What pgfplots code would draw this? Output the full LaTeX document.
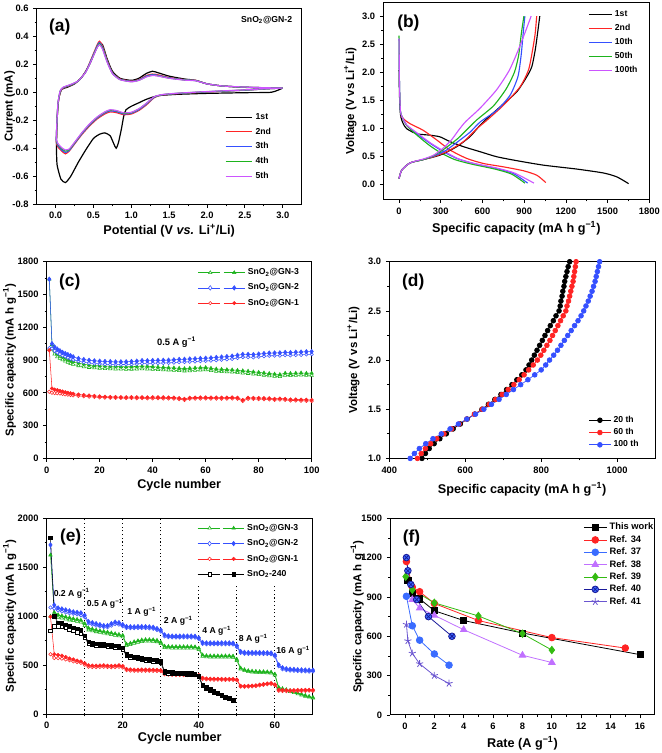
\documentclass[border=0pt]{standalone}
\usepackage{fontspec}
\setmainfont{Liberation Sans}
\usepackage{pgfplots}
\pgfplotsset{compat=1.18}
\usepackage{pgfplotstable}

\definecolor{cgreen}{HTML}{1DB31D}
\definecolor{cblue}{HTML}{3550FF}
\definecolor{cred}{HTML}{FF2424}
\definecolor{cpurp}{HTML}{CC55FF}
\definecolor{r37}{HTML}{3A6CFF}
\definecolor{r38}{HTML}{C070FF}
\definecolor{r39}{HTML}{33BB11}
\definecolor{r40}{HTML}{1A1A9A}
\definecolor{r41}{HTML}{6A55D0}

\tikzset{letter/.style={font=\fontsize{13}{15}\selectfont\bfseries}}
\pgfplotsset{
  myax/.style={
    scale only axis, anchor=north west,
    axis line style={line width=0.8pt},
    every tick/.style={line width=0.6pt, black},
    tick align=outside, tick pos=left,
    major tick length=2.6pt, minor tick length=1.5pt,
    minor tick num=1,
    tick label style={font=\fontsize{7}{8}\selectfont\bfseries},
    /pgf/number format/assume math mode=true,
    /pgf/number format/1000 sep={},
    legend style={draw=none, fill=none, font=\fontsize{6.5}{7.5}\selectfont\bfseries, inner sep=0pt, row sep=1.5pt},
    legend cell align=left,
  },
  ylpos/.style={every axis y label/.style={at={(axis description cs:#1,0.5)}, rotate=90, anchor=center, font=\fontsize{8.6}{10}\selectfont\bfseries}},
  xlpos/.style={every axis x label/.style={at={(axis description cs:0.5,#1)}, anchor=center, font=\fontsize{9.5}{11}\selectfont\bfseries}},
  lineleg/.style={legend image code/.code={\draw[##1,mark=none] (0pt,0pt)--(#1,0pt);}},
  markleg/.style={legend image code/.code={\draw[##1,mark=none] (0pt,0pt)--(#1,0pt);
      \draw[##1,only marks] plot coordinates {(#1/2,0pt)};}},
  dualleg/.style={legend image code/.code={
      \draw[##1,mark=none] (0pt,0pt) -- (16.5pt,0pt);
      \draw[##1,mark=none] (19pt,0pt) -- (35pt,0pt);
      \draw[##1,only marks,mark options={fill=white}] plot coordinates {(9pt,0pt)};
      \draw[##1,only marks] plot coordinates {(27pt,0pt)};}},
}

\pgfplotstableread{
x r b g m
3.0 0.030 0.030 0.030 0.030
2.8 0.025 0.025 0.025 0.026
2.5 0.015 0.015 0.016 0.017
2.0 0.002 0.003 0.004 0.005
1.6 -0.010 -0.009 -0.008 -0.007
1.4 -0.020 -0.019 -0.018 -0.017
1.3 -0.040 -0.037 -0.035 -0.033
1.2 -0.090 -0.085 -0.080 -0.078
1.1 -0.130 -0.125 -0.120 -0.118
1.0 -0.155 -0.150 -0.146 -0.143
0.9 -0.160 -0.155 -0.150 -0.147
0.8 -0.145 -0.138 -0.133 -0.130
0.72 -0.140 -0.133 -0.128 -0.125
0.65 -0.155 -0.148 -0.143 -0.140
0.55 -0.190 -0.184 -0.179 -0.176
0.45 -0.240 -0.234 -0.229 -0.225
0.35 -0.300 -0.295 -0.290 -0.287
0.25 -0.370 -0.366 -0.362 -0.358
0.18 -0.420 -0.416 -0.410 -0.405
0.13 -0.440 -0.430 -0.420 -0.412
0.08 -0.420 -0.412 -0.403 -0.396
0.03 -0.390 -0.380 -0.372 -0.366
0.01 -0.360 -0.350 -0.342 -0.336
0.012 -0.300 -0.290 -0.285 -0.280
0.03 -0.100 -0.095 -0.090 -0.085
0.06 0.000 0.005 0.008 0.010
0.10 0.030 0.032 0.034 0.036
0.20 0.050 0.052 0.054 0.056
0.30 0.080 0.080 0.081 0.082
0.40 0.150 0.148 0.146 0.145
0.48 0.250 0.245 0.240 0.236
0.55 0.340 0.333 0.326 0.320
0.58 0.365 0.355 0.347 0.340
0.62 0.330 0.322 0.315 0.308
0.68 0.230 0.225 0.220 0.216
0.75 0.140 0.138 0.136 0.134
0.85 0.095 0.093 0.091 0.090
1.00 0.080 0.078 0.076 0.075
1.10 0.090 0.088 0.086 0.085
1.20 0.120 0.116 0.112 0.110
1.28 0.130 0.126 0.122 0.120
1.35 0.125 0.121 0.118 0.116
1.50 0.105 0.103 0.101 0.100
1.70 0.090 0.089 0.088 0.087
1.85 0.085 0.084 0.083 0.082
2.00 0.060 0.060 0.060 0.060
2.20 0.045 0.045 0.045 0.045
2.50 0.036 0.036 0.036 0.037
2.80 0.032 0.032 0.032 0.032
3.00 0.030 0.030 0.030 0.030
}\cvtab

\pgfplotstableread{
cyc d3 c3 d2 c2 d1 c1
1 1640 1000 1640 1010 990 610
2 1040 1000 1050 1005 640 600
3 985 955 1020 985 630 598
4 960 930 1000 968 625 596
5 945 915 985 955 618 594
6 930 902 970 942 612 590
7 918 890 960 932 606 586
8 905 878 950 922 600 583
9 895 868 940 912 596 580
10 885 860 930 903 592 577
12 872 848 915 890 585 572
14 862 838 905 880 580 568
16 855 832 898 873 576 565
18 850 828 893 868 572 562
20 848 825 890 865 568 558
22 845 822 887 862 565 556
24 843 820 886 860 563 555
26 842 818 883 858 562 554
28 840 817 884 859 560 553
30 838 815 884 860 560 552
32 840 816 887 862 561 552
34 842 818 890 865 560 551
36 845 820 895 870 560 551
38 843 818 894 869 559 550
40 840 815 896 871 560 550
42 835 812 897 872 560 550
44 833 810 898 873 559 549
46 830 808 899 874 558 548
48 828 806 902 877 557 547
50 825 803 906 881 552 542
52 822 800 907 882 545 535
54 825 802 910 885 555 545
56 828 805 912 887 557 547
58 830 808 915 890 558 548
60 832 810 917 892 558 548
62 825 803 920 895 557 547
64 818 797 924 899 557 547
66 815 794 928 903 556 546
68 812 791 932 907 557 547
70 810 789 936 911 558 548
72 806 785 944 919 556 546
74 802 781 952 927 535 525
76 798 777 952 927 555 545
78 792 771 950 925 554 544
80 788 767 955 930 553 543
82 782 761 960 935 552 542
84 777 756 964 939 550 540
86 772 751 965 940 545 535
88 768 748 966 941 548 538
90 780 760 970 945 545 535
92 778 758 968 943 540 530
94 780 760 972 947 540 530
96 782 762 973 948 538 528
98 779 759 976 951 537 527
100 780 760 978 953 535 525
}\ctab

\pgfplotstableread{
V a b c
1.00 486 474 455
1.05 495 484 466
1.10 505 495 479
1.15 518 509 496
1.20 533 525 515
1.25 550 544 537
1.30 568 564 560
1.35 587 584 582
1.40 605 604 604
1.45 625 624 627
1.50 644 645 649
1.55 661 663 669
1.60 678 680 689
1.65 694 697 708
1.70 709 713 727
1.75 723 728 746
1.80 736 742 765
1.85 749 755 783
1.90 760 767 800
1.95 768 779 812
2.00 775 790 822
2.05 782 799 833
2.10 789 807 843
2.15 796 815 852
2.20 803 823 861
2.25 810 830 870
2.30 817 837 879
2.35 824 844 888
2.40 832 851 897
2.45 839 858 905
2.50 847 865 912
2.55 850 868 918
2.60 852 872 924
2.65 855 875 929
2.70 857 878 934
2.75 860 881 938
2.80 862 884 942
2.85 865 886 945
2.90 868 888 948
2.95 871 890 951
3.00 875 892 954
}\dtab

\pgfplotstableread{
cyc d3 c3 d2 c2 d1 c1 d0 c0
1 1625 1000 1728 1090 996 612 1803 850
2 1040 1000 1115 1080 612 575 1000 900
3 1015 990 1085 1060 605 572 935 900
4 1005 980 1075 1050 598 568 930 895
5 995 972 1065 1040 585 560 915 880
6 985 962 1055 1030 570 550 900 865
7 975 955 1045 1025 560 540 885 850
8 968 948 1040 1020 548 532 870 835
9 960 940 1035 1010 540 525 855 820
10 925 905 1010 990 520 505 800 780
11 880 860 945 925 500 485 740 720
12 870 850 935 915 497 482 725 710
13 860 842 925 905 496 482 720 705
14 852 835 915 897 498 483 715 700
15 845 828 905 890 500 485 712 697
16 838 820 905 887 496 482 708 695
17 830 813 925 905 494 480 703 690
18 822 806 940 920 496 482 698 685
19 815 800 935 915 500 485 693 680
20 805 790 915 897 492 478 680 665
21 715 700 895 880 462 450 610 595
22 725 710 893 878 458 446 595 580
23 740 724 893 878 455 444 588 575
24 750 734 895 880 455 444 580 566
25 758 742 895 880 456 445 572 558
26 762 746 894 879 456 444 566 552
27 762 746 892 877 455 444 560 546
28 760 744 888 873 454 443 556 542
29 755 740 875 860 453 442 552 538
30 735 720 860 845 450 440 540 525
31 695 680 810 795 420 408 440 428
32 692 678 800 786 415 404 432 420
33 690 676 798 784 413 402 428 416
34 690 676 798 784 412 401 425 414
35 690 676 798 784 412 401 423 412
36 690 676 798 784 411 400 422 411
37 690 676 798 784 410 400 420 410
38 690 676 798 784 410 400 418 408
39 688 674 796 782 408 398 412 402
40 675 660 780 766 400 390 390 380
41 605 592 732 718 372 362 300 290
42 598 585 728 714 365 356 275 266
43 596 583 728 714 363 354 255 246
44 596 583 728 714 362 353 235 226
45 596 583 728 714 362 353 215 208
46 596 583 728 714 361 352 195 188
47 596 583 728 714 360 351 178 172
48 596 583 728 714 360 351 162 156
49 594 581 726 712 360 351 148 142
50 560 548 700 686 355 346 nan nan
51 472 460 640 626 290 282 nan nan
52 455 445 632 618 288 280 nan nan
53 445 435 630 616 290 282 nan nan
54 440 430 630 616 292 284 nan nan
55 438 428 630 616 296 288 nan nan
56 436 426 630 616 302 294 nan nan
57 435 425 628 614 308 300 nan nan
58 433 423 628 614 314 306 nan nan
59 430 420 626 612 318 310 nan nan
60 410 400 605 590 305 298 nan nan
61 275 262 505 490 250 240 nan nan
62 262 250 475 460 248 238 nan nan
63 252 242 465 450 246 236 nan nan
64 242 232 460 446 245 235 nan nan
65 230 220 458 444 246 236 nan nan
66 218 208 455 441 247 237 nan nan
67 205 196 453 439 248 238 nan nan
68 193 184 452 438 249 239 nan nan
69 182 174 450 436 250 240 nan nan
70 172 165 450 436 248 238 nan nan
}\etab

\begin{document}
\begin{tikzpicture}
\useasboundingbox (0,0) rectangle (495.75pt,-564.75pt);

% ---------------- (a)
\begin{axis}[myax, at={(27.5pt,-6.2pt)}, width=198.75pt, height=147pt,
  ylpos=-0.102, xlpos=-0.133,
  xmin=-0.25, xmax=3.25, ymin=-0.8, ymax=0.6,
  xtick={0,0.5,...,3}, ytick={-0.8,-0.6,...,0.6},
  xticklabel style={/pgf/number format/.cd, fixed, fixed zerofill, precision=1},
  yticklabel style={/pgf/number format/.cd, fixed, fixed zerofill, precision=1},
  xlabel={Potential (V \textit{vs.} Li\textsuperscript{+}/Li)},
  ylabel={Current (mA)},
  lineleg=20pt,
  legend style={at={(0.71,0.48)}, anchor=north west, row sep=1.0pt},
  ]
\addplot[black, line width=0.9pt, smooth, tension=0.35] coordinates {
(3.0,0.03) (2.85,0.0) (2.5,-0.003) (2.0,-0.008) (1.6,-0.015) (1.35,-0.025) (1.2,-0.05) (1.1,-0.075) (1.0,-0.1) (0.93,-0.125) (0.9,-0.17) (0.87,-0.26) (0.83,-0.36) (0.8,-0.4) (0.77,-0.37) (0.72,-0.31) (0.65,-0.29) (0.58,-0.3) (0.5,-0.33) (0.4,-0.41) (0.3,-0.5) (0.2,-0.6) (0.13,-0.645) (0.07,-0.62) (0.02,-0.52) (0.012,-0.4) (0.02,-0.2) (0.04,-0.05) (0.08,0.02) (0.15,0.035) (0.25,0.06) (0.35,0.11) (0.45,0.2) (0.52,0.29) (0.58,0.35) (0.62,0.34) (0.68,0.24) (0.75,0.15) (0.85,0.1) (1.0,0.085) (1.1,0.1) (1.2,0.135) (1.28,0.15) (1.35,0.14) (1.5,0.115) (1.7,0.095) (1.85,0.085) (2.0,0.06) (2.2,0.045) (2.5,0.035) (2.8,0.03) (3.0,0.03)};
\addlegendentry{1st}
\addplot[cred, line width=0.9pt, smooth, tension=0.35] table[x=x,y=r]{\cvtab};
\addlegendentry{2nd}
\addplot[cblue, line width=0.9pt, smooth, tension=0.35] table[x=x,y=b]{\cvtab};
\addlegendentry{3th}
\addplot[cgreen, line width=0.9pt, smooth, tension=0.35] table[x=x,y=g]{\cvtab};
\addlegendentry{4th}
\addplot[cpurp, line width=0.9pt, smooth, tension=0.35] table[x=x,y=m]{\cvtab};
\addlegendentry{5th}
\node[letter] at (rel axis cs:0.087,0.903) {(a)};
\node[font=\fontsize{6.5}{7.5}\selectfont\bfseries] at (rel axis cs:0.868,0.94) {SnO\textsubscript{2}@GN-2};
\end{axis}

% ---------------- (b)
\begin{axis}[myax, at={(287.5pt,-2pt)}, width=199.5pt, height=147.5pt,
  ylpos=-0.124, xlpos=-0.148,
  xmin=-113, xmax=1800, ymin=-0.27, ymax=3.24,
  xtick={0,300,...,1800}, ytick={0,0.5,...,3},
  yticklabel style={/pgf/number format/.cd, fixed, fixed zerofill, precision=1},
  xlabel={Specific capacity (mA h g\textsuperscript{−1})},
  ylabel={Voltage (V vs Li\textsuperscript{+}/Li)},
  lineleg=17pt,
  legend style={at={(0.77,0.975)}, anchor=north west, row sep=0.3pt},
  ]
\addplot[black, line width=0.85pt, smooth, tension=0.4] coordinates {(0,2.04) (3,1.6) (8,1.3) (15,1.18) (30,1.08) (55,0.99) (127,0.9) (223,0.875) (295,0.845) (367,0.76) (463,0.67) (583,0.58) (703,0.49) (847,0.42) (1039,0.34) (1279,0.27) (1471,0.2) (1567,0.13) (1651,0.01)};
\addlegendentry{1st}
\addplot[cred, line width=0.85pt, smooth, tension=0.4] coordinates {(12,1.22) (40,1.15) (79,1.08) (175,0.96) (271,0.79) (367,0.61) (487,0.46) (607,0.37) (751,0.31) (895,0.24) (991,0.16) (1055,0.03)};
\addlegendentry{2nd}
\addplot[cblue, line width=0.85pt, smooth, tension=0.4] coordinates {(0,2.6) (3,1.8) (8,1.4) (14,1.25) (55,1.05) (127,0.9) (223,0.73) (319,0.58) (415,0.46) (535,0.37) (703,0.28) (823,0.19) (925,0.02)};
\addlegendentry{10th}
\addplot[cgreen, line width=0.85pt, smooth, tension=0.4] coordinates {(0,2.65) (3,1.8) (8,1.4) (14,1.25) (55,1.05) (127,0.88) (215,0.7) (300,0.56) (400,0.44) (520,0.36) (690,0.27) (810,0.18) (905,0.02)};
\addlegendentry{50th}
\addplot[cpurp, line width=0.85pt, smooth, tension=0.4] coordinates {(0,2.6) (3,1.8) (8,1.4) (14,1.25) (55,1.06) (127,0.92) (230,0.73) (330,0.58) (430,0.45) (540,0.37) (700,0.29) (830,0.2) (970,0.02)};
\addlegendentry{100th}
\addplot[black, line width=0.85pt, smooth, tension=0.4, forget plot] coordinates {(0,0.1) (19,0.25) (79,0.38) (175,0.44) (295,0.52) (415,0.67) (511,0.85) (571,1.02) (631,1.17) (727,1.38) (847,1.65) (919,1.92) (955,2.1) (979,2.39) (996,2.69) (1012,3.0)};
\addplot[cred, line width=0.85pt, smooth, tension=0.4, forget plot] coordinates {(0,0.1) (19,0.25) (79,0.38) (175,0.44) (247,0.49) (343,0.58) (463,0.76) (559,0.99) (631,1.14) (751,1.41) (871,1.74) (931,2.04) (960,2.39) (979,2.69) (990,3.0)};
\addplot[cblue, line width=0.85pt, smooth, tension=0.4, forget plot] coordinates {(0,0.1) (19,0.25) (79,0.38) (175,0.44) (247,0.5) (335,0.6) (439,0.79) (511,0.93) (583,1.11) (703,1.32) (799,1.59) (855,1.92) (878,2.3) (893,2.7) (905,3.0)};
\addplot[cgreen, line width=0.85pt, smooth, tension=0.4, forget plot] coordinates {(0,0.1) (19,0.25) (79,0.38) (175,0.44) (247,0.51) (320,0.62) (420,0.81) (490,0.98) (560,1.15) (680,1.4) (770,1.7) (830,2.0) (860,2.3) (880,2.7) (898,3.0)};
\addplot[cpurp, line width=0.85pt, smooth, tension=0.4, forget plot] coordinates {(0,0.1) (19,0.25) (79,0.38) (175,0.45) (250,0.52) (320,0.65) (380,0.8) (430,0.97) (480,1.12) (580,1.35) (700,1.68) (790,2.02) (850,2.35) (905,2.7) (950,3.0)};
\node[letter] at (rel axis cs:0.094,0.898) {(b)};
\end{axis}

% ---------------- (c)
\begin{axis}[myax, at={(35pt,-196.3pt)}, width=198.75pt, height=147.5pt,
  ylpos=-0.14, xlpos=-0.138,
  xmin=0, xmax=100, ymin=0, ymax=1800,
  xtick={0,20,...,100}, ytick={0,300,...,1800},
  xlabel={Cycle number},
  ylabel={Specific capacity (mA h g\textsuperscript{−1})},
  dualleg,
  legend style={at={(0.57,0.98)}, anchor=north west, row sep=1.3pt},
  ]
\addplot[cgreen, line width=0.4pt, mark=triangle*, mark size=1.5pt, mark options={fill=white}, forget plot] table[x=cyc,y=c3]{\ctab};
\addplot[cgreen, line width=0.4pt, mark=triangle*, mark size=1.5pt] table[x=cyc,y=d3]{\ctab};
\addlegendentry{SnO\textsubscript{2}@GN-3}
\addplot[cblue, line width=0.4pt, mark=*, mark size=1.3pt, mark options={fill=white}, forget plot] table[x=cyc,y=c2]{\ctab};
\addplot[cblue, line width=0.4pt, mark=diamond*, mark size=1.7pt] table[x=cyc,y=d2]{\ctab};
\addlegendentry{SnO\textsubscript{2}@GN-2}
\addplot[cred, line width=0.4pt, mark=*, mark size=1.3pt, mark options={fill=white}, forget plot] table[x=cyc,y=c1]{\ctab};
\addplot[cred, line width=0.4pt, mark=*, mark size=1.3pt] table[x=cyc,y=d1]{\ctab};
\addlegendentry{SnO\textsubscript{2}@GN-1}
\node[letter] at (rel axis cs:0.087,0.895) {(c)};
\node[font=\fontsize{7}{8}\selectfont\bfseries] at (rel axis cs:0.49,0.59) {0.5 A g\textsuperscript{−1}};
\end{axis}

% ---------------- (d)
\begin{axis}[myax, at={(292pt,-196.3pt)}, width=199.3pt, height=147.5pt,
  ylpos=-0.135, xlpos=-0.158,
  xmin=400, xmax=1100, ymin=1, ymax=3,
  xtick={400,600,...,1000}, ytick={1,1.5,...,3},
  yticklabel style={/pgf/number format/.cd, fixed, fixed zerofill, precision=1},
  xlabel={Specific capacity (mA h g\textsuperscript{−1})},
  ylabel={Voltage (V vs Li\textsuperscript{+}/Li)},
  markleg=16pt,
  legend style={at={(0.75,0.23)}, anchor=north west, row sep=-1.0pt},
  ]
\addplot[black, line width=0.5pt, mark=*, mark size=1.8pt] table[x=a,y=V]{\dtab};
\addlegendentry{20 th}
\addplot[cred, line width=0.5pt, mark=*, mark size=1.8pt] table[x=b,y=V]{\dtab};
\addlegendentry{60 th}
\addplot[cblue, line width=0.5pt, mark=*, mark size=1.8pt] table[x=c,y=V]{\dtab};
\addlegendentry{100 th}
\node[letter] at (rel axis cs:0.09,0.895) {(d)};
\end{axis}

% ---------------- (e)
\begin{axis}[myax, at={(35pt,-388.7pt)}, width=199.7pt, height=147pt,
  ylpos=-0.139, xlpos=-0.122,
  xmin=0, xmax=70, ymin=0, ymax=2000,
  xtick={0,20,...,60}, ytick={0,500,...,2000},
  xlabel={Cycle number},
  ylabel={Specific capacity (mA h g\textsuperscript{−1})},
  dualleg,
  legend style={at={(0.565,0.985)}, anchor=north west, row sep=1.4pt},
  ]
\draw[black, dotted, line width=0.8pt] (axis cs:10,0) -- (axis cs:10,2000);
\draw[black, dotted, line width=0.8pt] (axis cs:20,0) -- (axis cs:20,2000);
\draw[black, dotted, line width=0.8pt] (axis cs:30,0) -- (axis cs:30,2000);
\draw[black, dotted, line width=0.8pt] (axis cs:40,0) -- (axis cs:40,1320);
\draw[black, dotted, line width=0.8pt] (axis cs:50,0) -- (axis cs:50,1320);
\draw[black, dotted, line width=0.8pt] (axis cs:60,0) -- (axis cs:60,1320);
\addplot[cgreen, line width=0.4pt, mark=triangle*, mark size=1.5pt, mark options={fill=white}, forget plot] table[x=cyc,y=c3]{\etab};
\addplot[cgreen, line width=0.4pt, mark=triangle*, mark size=1.5pt] table[x=cyc,y=d3]{\etab};
\addlegendentry{SnO\textsubscript{2}@GN-3}
\addplot[cblue, line width=0.4pt, mark=*, mark size=1.3pt, mark options={fill=white}, forget plot] table[x=cyc,y=c2]{\etab};
\addplot[cblue, line width=0.4pt, mark=diamond*, mark size=1.7pt] table[x=cyc,y=d2]{\etab};
\addlegendentry{SnO\textsubscript{2}@GN-2}
\addplot[cred, line width=0.4pt, mark=*, mark size=1.3pt, mark options={fill=white}, forget plot] table[x=cyc,y=c1]{\etab};
\addplot[cred, line width=0.4pt, mark=*, mark size=1.3pt] table[x=cyc,y=d1]{\etab};
\addlegendentry{SnO\textsubscript{2}@GN-1}
\addplot[black, line width=0.4pt, mark=square*, mark size=1.3pt, mark options={fill=white}, forget plot] table[x=cyc,y=c0]{\etab};
\addplot[black, line width=0.4pt, mark=square*, mark size=1.3pt] table[x=cyc,y=d0]{\etab};
\addlegendentry{SnO\textsubscript{2}-240}
\node[letter] at (rel axis cs:0.09,0.903) {(e)};
\begin{scope}[font=\fontsize{6.5}{7.5}\selectfont\bfseries]
\node at (axis cs:6.6,1235) {0.2 A g\textsuperscript{−1}};
\node at (axis cs:15.3,1126) {0.5 A g\textsuperscript{−1}};
\node at (axis cs:25,1048) {1 A g\textsuperscript{−1}};
\node at (axis cs:34.6,952) {2 A g\textsuperscript{−1}};
\node at (axis cs:44.7,850) {4 A g\textsuperscript{−1}};
\node at (axis cs:54.3,769) {8 A g\textsuperscript{−1}};
\node at (axis cs:64.8,646) {16 A g\textsuperscript{−1}};
\end{scope}
\end{axis}

% ---------------- (f)
\begin{axis}[myax, at={(292.7pt,-388.7pt)}, width=198.3pt, height=147.5pt,
  ylpos=-0.125, xlpos=-0.142,
  xmin=-1, xmax=17, ymin=0, ymax=1500,
  xtick={0,2,...,16}, ytick={0,300,...,1500},
  xlabel={Rate (A g\textsuperscript{−1})},
  ylabel={Specific capacity (mA h g\textsuperscript{−1})},
  markleg=17pt,
  legend style={at={(0.73,0.99)}, anchor=north west, font=\fontsize{7}{8}\selectfont\bfseries, row sep=-1.3pt},
  ]
\addplot[black, line width=0.6pt, mark=square*, mark size=2.3pt] coordinates {(0.2,1025) (0.5,925) (1,885) (2,795) (4,720) (8,625) (16,460)};
\addlegendentry{This work}
\addplot[cred, line width=0.6pt, mark=*, mark size=2.5pt] coordinates {(0.1,1170) (0.5,975) (1,940) (2,850) (5,720) (10,590) (15,510)};
\addlegendentry{Ref. 34}
\addplot[r37, line width=0.6pt, mark=*, mark size=2.5pt] coordinates {(0.1,905) (0.5,680) (1,570) (2,465) (3,380)};
\addlegendentry{Ref. 37}
\addplot[r38, line width=0.6pt, mark=triangle*, mark size=2.8pt] coordinates {(0.5,880) (1,815) (2,760) (4,650) (8,455) (10,400)};
\addlegendentry{Ref. 38}
\addplot[r39, line width=0.6pt, mark=diamond*, mark size=2.8pt] coordinates {(0.05,1055) (0.5,955) (2,855) (5,755) (8,620) (10,495)};
\addlegendentry{Ref. 39}
\addplot[r40, line width=0.6pt, mark=otimes*, mark size=2.5pt, mark options={fill=r37}] coordinates {(0.1,1200) (0.2,1100) (0.4,995) (0.8,880) (1.6,750) (3.2,600)};
\addlegendentry{Ref. 40}
\addplot[r41, line width=0.6pt, mark=star, mark size=2.8pt] coordinates {(0.1,690) (0.2,565) (0.5,470) (1,390) (2,300) (3,240)};
\addlegendentry{Ref. 41}
\node[letter] at (rel axis cs:0.08,0.9) {(f)};
\end{axis}
\end{tikzpicture}
\end{document}
